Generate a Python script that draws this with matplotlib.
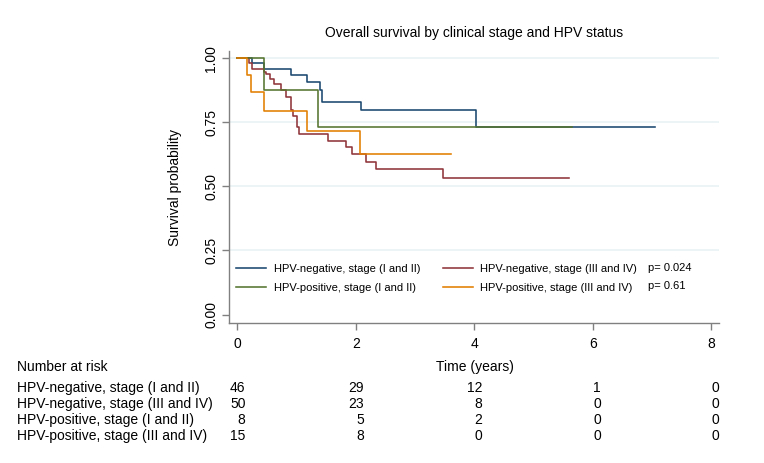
import matplotlib
matplotlib.use("Agg")
import matplotlib.pyplot as plt
import matplotlib.transforms as mtransforms

plt.rcParams['font.family'] = ['Liberation Sans', 'DejaVu Sans']

# =============================================================================
# DATA
# =============================================================================
# Kaplan-Meier steps: event times (years) and survival after each step
neg_early_t = [0, 0.25, 0.45, 0.90, 1.17, 1.40, 1.43, 2.08, 4.03, 7.05]
neg_early_s = [1.0, 0.981, 0.957, 0.935, 0.909, 0.876, 0.831, 0.800, 0.733, 0.733]

neg_late_t = [0, 0.20, 0.24, 0.45, 0.48, 0.55, 0.62, 0.73, 0.82, 0.91, 0.94,
              1.00, 1.04, 1.52, 1.84, 1.93, 2.17, 2.34, 3.47, 5.60]
neg_late_s = [1.0, 0.981, 0.958, 0.945, 0.937, 0.918, 0.898, 0.876, 0.850, 0.800, 0.775,
              0.731, 0.705, 0.678, 0.653, 0.625, 0.596, 0.567, 0.532, 0.532]

pos_early_t = [0, 0.45, 1.36, 5.64]
pos_early_s = [1.0, 0.876, 0.731, 0.731]

pos_late_t = [0, 0.165, 0.22, 0.45, 1.18, 2.06, 3.61]
pos_late_s = [1.0, 0.935, 0.867, 0.794, 0.717, 0.626, 0.626]

group_labels = ['HPV-negative, stage (I and II)', 'HPV-negative, stage (III and IV)',
                'HPV-positive, stage (I and II)', 'HPV-positive, stage (III and IV)']
group_colors = ['#1a476f', '#90353b', '#55752f', '#e37e00']
p_values = ['p= 0.024', 'p= 0.61']

x_ticks = [0, 2, 4, 6, 8]
y_ticks = [0.0, 0.25, 0.5, 0.75, 1.0]
y_ticklabels = ['0.00', '0.25', '0.50', '0.75', '1.00']

risk_counts = [
    [46, 29, 12, 1, 0],
    [50, 23, 8, 0, 0],
    [8, 5, 2, 0, 0],
    [15, 8, 0, 0, 0],
]

# =============================================================================
# FIGURE
# =============================================================================
W, H = 764, 463
fig = plt.figure(figsize=(W / 100, H / 100), dpi=100)
ax = fig.add_axes([229.3 / W, 1 - 322.7 / H, (719 - 229.3) / W, (322.7 - 51.5) / H])
ax.set_xlim(-0.138, 8.127)
ax.set_ylim(-0.032, 1.0265)

for yv in y_ticks[1:]:
    ax.axhline(yv, color='#eaf2f3', lw=1.2, zorder=0)

curves = [(neg_early_t, neg_early_s), (neg_late_t, neg_late_s),
          (pos_early_t, pos_early_s), (pos_late_t, pos_late_s)]
lines = []
for (t, s), col, lab in zip(curves, group_colors, group_labels):
    ln, = ax.step(t, s, where='post', color=col, lw=1.15, label=lab)
    lines.append(ln)

# legend: column 1 = early stage, column 2 = late stage
leg = ax.legend([lines[0], lines[2], lines[1], lines[3]],
                [group_labels[0], group_labels[2], group_labels[1], group_labels[3]],
                ncol=2, frameon=False, fontsize=8, loc='upper left',
                bbox_to_anchor=(236 / W, 1 - 264 / H), bbox_transform=fig.transFigure,
                borderpad=0, borderaxespad=0, handlelength=2.7, handletextpad=0.7,
                columnspacing=2.0, labelspacing=0.82)
fig.text(648 / W, 1 - 268 / H, p_values[0], fontsize=8, va='center', ha='left')
fig.text(648 / W, 1 - 286 / H, p_values[1], fontsize=8, va='center', ha='left')

for side in ['top', 'right']:
    ax.spines[side].set_visible(False)
for side in ['left', 'bottom']:
    ax.spines[side].set_color('#808080')
    ax.spines[side].set_linewidth(1.0)

ax.set_xticks(x_ticks)
ax.set_xticklabels([str(v) for v in x_ticks])
ax.set_yticks(y_ticks)
ax.set_yticklabels(y_ticklabels, rotation=90, va='center')
ax.tick_params(axis='both', colors='#808080', labelcolor='black', length=5,
               width=1.0, labelsize=10)
ax.tick_params(axis='x', pad=5)
ax.tick_params(axis='y', pad=3)

ax.set_ylabel('Survival probability', fontsize=10, labelpad=16)
fig.text(0.5 * (237.5 + 711.5) / W, 1 - 367 / H, 'Time (years)', fontsize=10,
         ha='center', va='center')
fig.text(0.5 * (229.3 + 719) / W, 1 - 33 / H,
         'Overall survival by clinical stage and HPV status', fontsize=10,
         ha='center', va='center')

# number at risk table
fig.text(17 / W, 1 - 367 / H, 'Number at risk', fontsize=10, va='center', ha='left')
row_y = [388, 404, 420, 436]
trans = mtransforms.blended_transform_factory(ax.transData, fig.transFigure)
trans = mtransforms.offset_copy(trans, fig=fig, x=8, y=0, units='dots')
for lab, counts, ry in zip(group_labels, risk_counts, row_y):
    fig.text(17 / W, 1 - ry / H, lab, fontsize=10, va='center', ha='left')
    for xv, n in zip(x_ticks, counts):
        ax.text(xv, 1 - ry / H, str(n), fontsize=10, va='center', ha='right',
                transform=trans, clip_on=False)

fig.savefig('out.png', dpi=100)
